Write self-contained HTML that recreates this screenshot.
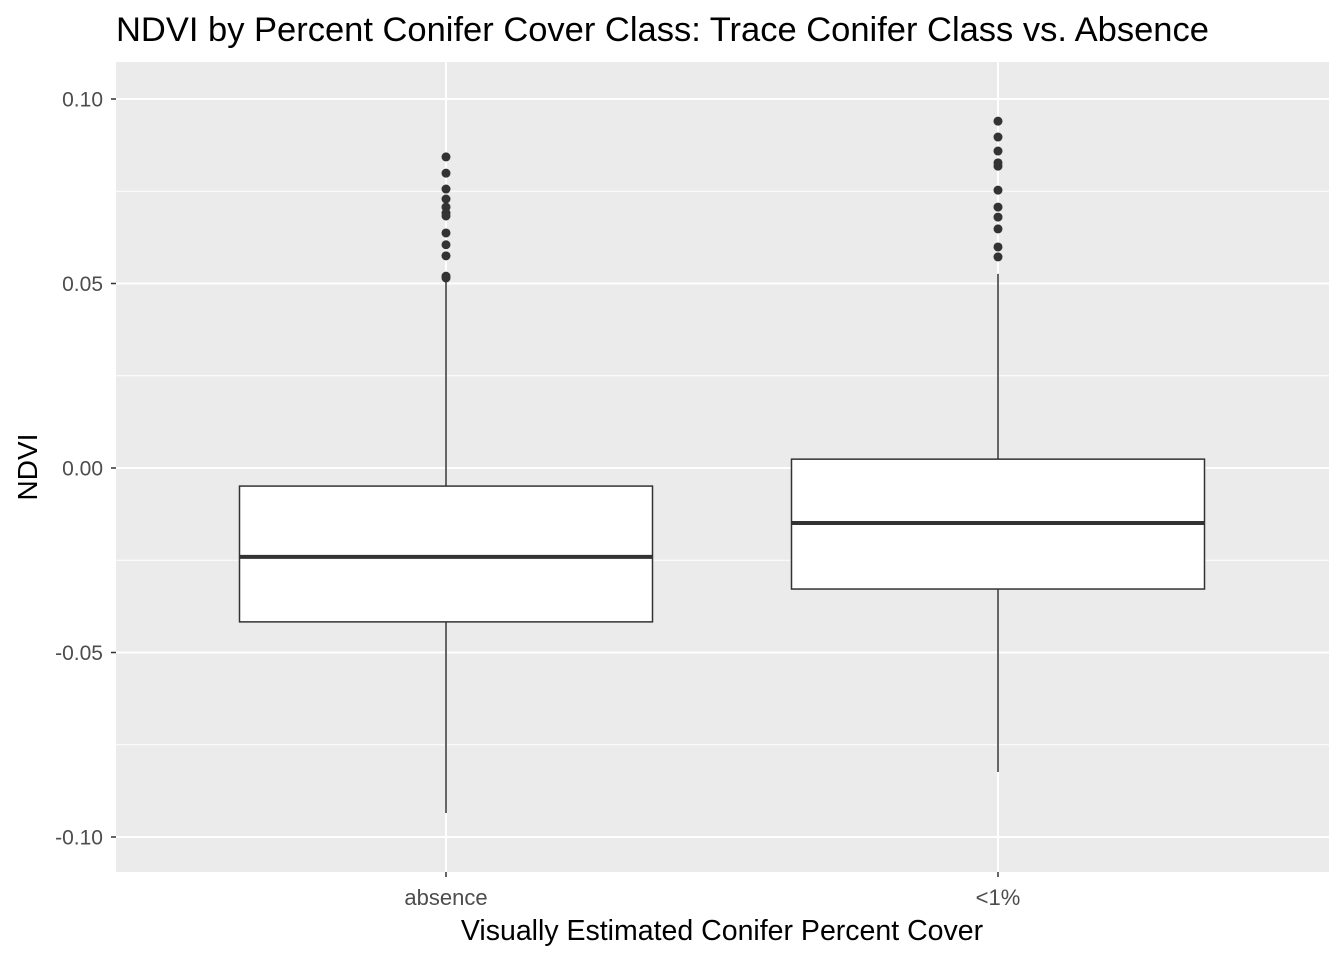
<!DOCTYPE html>
<html><head><meta charset="utf-8"><style>
body{margin:0;background:#fff;font-family:"Liberation Sans",sans-serif}
</style></head><body>
<svg id="chart" width="1344" height="960" font-family="Liberation Sans, sans-serif"></svg>
<script>
const categories=["absence","<1%"];
const q1=[-0.0417,-0.0328];
const median=[-0.0241,-0.0149];
const q3=[-0.0049,0.0024];
const whiskerLow=[-0.0935,-0.0824];
const whiskerHigh=[0.0515,0.0526];
const outliersAbsence=[0.0843,0.0799,0.0756,0.0729,0.0707,0.0691,0.0683,0.0637,0.0605,0.0575,0.0520,0.0515];
const outliersTrace=[0.0940,0.0897,0.0859,0.0827,0.0818,0.0753,0.0707,0.0680,0.0648,0.0599,0.0572];
const yTicks=[-0.10,-0.05,0.00,0.05,0.10];
const yTickLabels=["-0.10","-0.05","0.00","0.05","0.10"];

const svg=document.getElementById('chart');
const NS='http://www.w3.org/2000/svg';
const L=116,R=1329,T=62,B=872;
const y=v=>468-v*3690;
const xc=i=>446+i*552;
const bw=413;
function mk(tag,attrs,parent){const e=document.createElementNS(NS,tag);for(const k in attrs)e.setAttribute(k,attrs[k]);(parent||svg).appendChild(e);return e;}
let e=mk('rect',{x:L,y:T,width:R-L,height:B-T,fill:'#EBEBEB'});


for(let i=0;i<yTicks.length-1;i++){const v=(yTicks[i]+yTicks[i+1])/2;
 e=mk('line',{x1:L,x2:R,y1:y(v),y2:y(v),stroke:'#fff','stroke-width':1});
 
 }
yTicks.forEach((v,i)=>{
 e=mk('line',{x1:L,x2:R,y1:y(v),y2:y(v),stroke:'#fff','stroke-width':2});
 
 
 e=mk('line',{x1:L-5,x2:L,y1:y(v),y2:y(v),stroke:'#333','stroke-width':1.5});
 
 
 e=mk('text',{x:L-13,y:y(v)+7.5,'text-anchor':'end','font-size':21,fill:'#4D4D4D'});e.textContent=yTickLabels[i];
 
 
});
categories.forEach((c,i)=>{
 const x=xc(i);
 e=mk('line',{x1:x,x2:x,y1:T,y2:B,stroke:'#fff','stroke-width':2});
 
 
 e=mk('line',{x1:x,x2:x,y1:B,y2:B+5,stroke:'#333','stroke-width':1.5});
 
 
 e=mk('text',{x:x,y:B+33,'text-anchor':'middle','font-size':22,fill:'#4D4D4D'});e.textContent=c;
 
 
 e=mk('line',{x1:x,x2:x,y1:y(whiskerHigh[i]),y2:y(q3[i]),stroke:'#333','stroke-width':1.5});
 
 
 e=mk('line',{x1:x,x2:x,y1:y(q1[i]),y2:y(whiskerLow[i]),stroke:'#333','stroke-width':1.5});
 
 
 e=mk('rect',{x:x-bw/2,y:y(q3[i]),width:bw,height:y(q1[i])-y(q3[i]),fill:'#fff',stroke:'#333','stroke-width':1.5});
 
 
 e=mk('line',{x1:x-bw/2,x2:x+bw/2,y1:y(median[i]),y2:y(median[i]),stroke:'#333','stroke-width':4});
 
 
 (i==0?outliersAbsence:outliersTrace).forEach(v=>{
  e=mk('circle',{cx:x,cy:y(v),r:4.5,fill:'#333'});
  
  
 });
});
e=mk('text',{x:116,y:41,'font-size':34.5,fill:'#000'});e.textContent='NDVI by Percent Conifer Cover Class: Trace Conifer Class vs. Absence';


e=mk('text',{x:722,y:940,'text-anchor':'middle','font-size':28.5,fill:'#000'});e.textContent='Visually Estimated Conifer Percent Cover';


e=mk('text',{x:37,y:467,'text-anchor':'middle','font-size':28,fill:'#000',transform:'rotate(-90 37 467)'});e.textContent='NDVI';


</script>
</body></html>
